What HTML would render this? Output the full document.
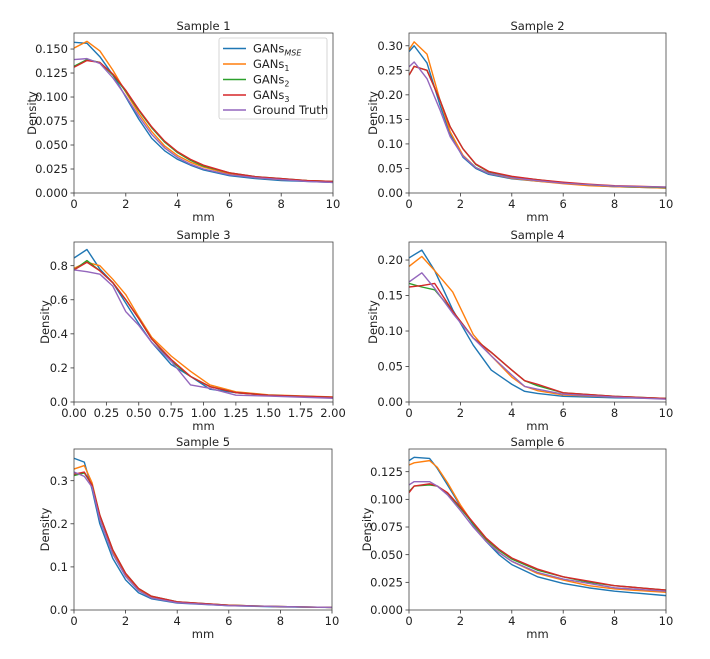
<!DOCTYPE html>
<html><head><meta charset="utf-8">
<style>
body{margin:0;background:#fff;}
svg{display:block;font-family:"DejaVu Sans","Liberation Sans",sans-serif;}
</style></head>
<body>
<svg id="fig" width="710" height="659" viewBox="0 0 710 659"></svg>
<script>
const seriesNames = ["GANsMSE","GANs1","GANs2","GANs3","Ground Truth"];
const colors = ["#1f77b4","#ff7f0e","#2ca02c","#d62728","#9467bd"];

const s1x = [0,0.5,1,1.5,2,2.5,3,3.5,4,4.5,5,6,7,8,9,10];
const s1mse = [0.157,0.156,0.142,0.123,0.100,0.077,0.057,0.044,0.035,0.029,0.024,0.018,0.015,0.013,0.012,0.011];
const s1g1 = [0.151,0.158,0.148,0.128,0.105,0.083,0.064,0.049,0.039,0.032,0.027,0.020,0.016,0.014,0.013,0.012];
const s1g2 = [0.132,0.139,0.136,0.123,0.106,0.086,0.068,0.053,0.042,0.034,0.028,0.021,0.017,0.015,0.013,0.012];
const s1g3 = [0.131,0.138,0.136,0.124,0.107,0.087,0.069,0.054,0.043,0.035,0.029,0.021,0.017,0.015,0.013,0.012];
const s1gt = [0.139,0.140,0.135,0.120,0.101,0.080,0.061,0.047,0.037,0.030,0.025,0.019,0.016,0.014,0.012,0.011];

const s2x = [0,0.2,0.7,1.2,1.6,2.1,2.6,3.1,4,5,6,7,8,10];
const s2mse = [0.288,0.300,0.265,0.18,0.12,0.073,0.05,0.038,0.029,0.024,0.02,0.016,0.013,0.010];
const s2g1 = [0.292,0.308,0.283,0.19,0.125,0.077,0.052,0.04,0.03,0.024,0.019,0.015,0.013,0.010];
const s2g2 = [0.24,0.258,0.25,0.19,0.135,0.09,0.058,0.043,0.033,0.027,0.021,0.017,0.014,0.011];
const s2g3 = [0.24,0.258,0.25,0.19,0.135,0.09,0.059,0.044,0.034,0.027,0.022,0.018,0.015,0.012];
const s2gt = [0.257,0.267,0.233,0.17,0.115,0.075,0.052,0.04,0.031,0.025,0.020,0.017,0.014,0.012];

const s3x = [0,0.1,0.2,0.3,0.4,0.5,0.6,0.75,0.9,1.05,1.25,1.5,2];
const s3mse = [0.845,0.895,0.78,0.70,0.58,0.46,0.35,0.22,0.15,0.075,0.055,0.04,0.025];
const s3g1 = [0.785,0.82,0.80,0.72,0.63,0.50,0.38,0.27,0.18,0.10,0.06,0.042,0.03];
const s3g2 = [0.775,0.83,0.77,0.70,0.60,0.49,0.37,0.24,0.15,0.09,0.055,0.04,0.028];
const s3g3 = [0.775,0.82,0.77,0.70,0.60,0.49,0.37,0.25,0.15,0.09,0.055,0.04,0.028];
const s3gt = [0.775,0.765,0.75,0.68,0.53,0.45,0.35,0.24,0.10,0.08,0.04,0.035,0.022];

const s4x = [0,0.5,1,1.7,2.5,3.2,4,4.5,5,6,8,10];
const s4mse = [0.203,0.214,0.185,0.13,0.08,0.045,0.025,0.015,0.012,0.008,0.006,0.005];
const s4g1 = [0.191,0.205,0.185,0.155,0.095,0.065,0.035,0.022,0.016,0.010,0.007,0.005];
const s4g2 = [0.167,0.162,0.158,0.128,0.09,0.07,0.045,0.03,0.023,0.013,0.008,0.005];
const s4g3 = [0.162,0.164,0.167,0.128,0.09,0.07,0.045,0.03,0.025,0.013,0.008,0.005];
const s4gt = [0.169,0.182,0.16,0.125,0.09,0.065,0.038,0.022,0.018,0.011,0.007,0.004];

const s5x = [0,0.4,0.7,1,1.5,2,2.5,3,4,6,8,10];
const s5mse = [0.352,0.343,0.28,0.20,0.12,0.07,0.04,0.026,0.016,0.010,0.007,0.006];
const s5g1 = [0.327,0.335,0.295,0.22,0.135,0.08,0.047,0.03,0.018,0.011,0.008,0.006];
const s5g2 = [0.312,0.318,0.29,0.22,0.14,0.085,0.05,0.032,0.019,0.011,0.008,0.006];
const s5g3 = [0.315,0.32,0.29,0.22,0.14,0.085,0.05,0.032,0.019,0.011,0.008,0.006];
const s5gt = [0.32,0.31,0.285,0.21,0.13,0.078,0.045,0.028,0.017,0.01,0.008,0.006];

const s6x = [0,0.2,0.8,1.1,1.5,2,2.5,3,3.5,4,5,6,7,8,10];
const s6mse = [0.135,0.138,0.137,0.128,0.113,0.094,0.077,0.062,0.050,0.041,0.030,0.024,0.020,0.017,0.013];
const s6g1 = [0.131,0.133,0.135,0.129,0.115,0.095,0.078,0.063,0.052,0.044,0.033,0.027,0.022,0.019,0.016];
const s6g2 = [0.107,0.112,0.113,0.112,0.105,0.092,0.078,0.064,0.054,0.046,0.036,0.030,0.025,0.022,0.018];
const s6g3 = [0.106,0.112,0.114,0.112,0.106,0.093,0.079,0.065,0.055,0.047,0.037,0.030,0.026,0.022,0.018];
const s6gt = [0.113,0.116,0.116,0.112,0.104,0.090,0.075,0.062,0.052,0.044,0.034,0.028,0.024,0.020,0.017];

const ticks10 = ["0","2","4","6","8","10"];
const ticks2 = ["0.00","0.25","0.50","0.75","1.00","1.25","1.50","1.75","2.00"];
const s1yt = ["0.000","0.025","0.050","0.075","0.100","0.125","0.150"];
const s2yt = ["0.00","0.05","0.10","0.15","0.20","0.25","0.30"];
const s3yt = ["0.0","0.2","0.4","0.6","0.8"];
const s4yt = ["0.00","0.05","0.10","0.15","0.20"];
const s5yt = ["0.0","0.1","0.2","0.3"];
const s6yt = ["0.000","0.025","0.050","0.075","0.100","0.125"];

const NS = "http://www.w3.org/2000/svg";
const svg = document.getElementById("fig");
function mk(tag, attrs, parent){
  const e = document.createElementNS(NS, tag);
  for (const k in attrs) e.setAttribute(k, attrs[k]);
  (parent||svg).appendChild(e);
  return e;
}
const FS = "11.5";
const panels = [
  {t:"Sample 1",L:74,R:333,T:33,B:193,xmax:10,ymax:0.1667,xt:ticks10,yt:s1yt,x:s1x,ys:[s1mse,s1g1,s1g2,s1g3,s1gt],yl:32,legend:true},
  {t:"Sample 2",L:409,R:666,T:33,B:193,xmax:10,ymax:0.326,xt:ticks10,yt:s2yt,x:s2x,ys:[s2mse,s2g1,s2g2,s2g3,s2gt],yl:373},
  {t:"Sample 3",L:74,R:333,T:242,B:402,xmax:2,ymax:0.939,xt:ticks2,yt:s3yt,x:s3x,ys:[s3mse,s3g1,s3g2,s3g3,s3gt],yl:45},
  {t:"Sample 4",L:409,R:666,T:242,B:402,xmax:10,ymax:0.2254,xt:ticks10,yt:s4yt,x:s4x,ys:[s4mse,s4g1,s4g2,s4g3,s4gt],yl:373},
  {t:"Sample 5",L:74,R:332,T:449,B:610,xmax:10,ymax:0.3735,xt:ticks10,yt:s5yt,x:s5x,ys:[s5mse,s5g1,s5g2,s5g3,s5gt],yl:45},
  {t:"Sample 6",L:409,R:666,T:449,B:610,xmax:10,ymax:0.1455,xt:ticks10,yt:s6yt,x:s6x,ys:[s6mse,s6g1,s6g2,s6g3,s6gt],yl:367}
];
panels.forEach((p, pi) => {
  const g = mk("g", {});
  
  
  const sx = v => p.L + v / p.xmax * (p.R - p.L);
  const sy = v => p.B - v / p.ymax * (p.B - p.T);
  const title = mk("text", {x:(p.L+p.R)/2, y:p.T-3, "text-anchor":"middle", "font-size":FS, fill:"#222"}, g);
  title.textContent = p.t;
  
  
  p.xt.forEach(lbl => {
    const v = parseFloat(lbl), X = sx(v);
    mk("line", {x1:X, x2:X, y1:p.B, y2:p.B+3.5, stroke:"#333", "stroke-width":"0.8"}, g);
    const t = mk("text", {x:X, y:p.B+15, "text-anchor":"middle", "font-size":FS, fill:"#222"}, g);
    t.textContent = lbl;
    
    
  });
  p.yt.forEach(lbl => {
    const v = parseFloat(lbl), Y = sy(v);
    mk("line", {x1:p.L-3.5, x2:p.L, y1:Y, y2:Y, stroke:"#333", "stroke-width":"0.8"}, g);
    const t = mk("text", {x:p.L-6, y:Y+4.2, "text-anchor":"end", "font-size":FS, fill:"#222"}, g);
    t.textContent = lbl;
    
    
  });
  const xl = mk("text", {x:(p.L+p.R)/2, y:p.B+28, "text-anchor":"middle", "font-size":FS, fill:"#222"}, g);
  xl.textContent = "mm";
  
  
  const yc = (p.T+p.B)/2;
  const yl = mk("text", {x:p.yl, y:yc, "text-anchor":"middle", "font-size":FS, fill:"#222", transform:`rotate(-90 ${p.yl} ${yc})`, dy:"4"}, g);
  yl.textContent = "Density";
  
  
  const cid = "clip" + pi;
  const cp = mk("clipPath", {id:cid}, g);
  mk("rect", {x:p.L, y:p.T, width:p.R-p.L, height:p.B-p.T}, cp);
  p.ys.forEach((arr, si) => {
    const d = arr.map((v, i) => (i ? "L" : "M") + sx(p.x[i]).toFixed(2) + "," + sy(v).toFixed(2)).join(" ");
    const path = mk("path", {d:d, fill:"none", stroke:colors[si], "stroke-width":"1.4", "clip-path":`url(#${cid})`, "stroke-linejoin":"round"}, g);
    
    
  });
  const frame = mk("rect", {x:p.L, y:p.T, width:p.R-p.L, height:p.B-p.T, fill:"none", stroke:"#444", "stroke-width":"0.8"}, g);
  
  
  if (p.legend) {
    const lg = mk("g", {}, g);
    
    
    mk("rect", {x:219, y:38, width:108, height:81, rx:2, fill:"#fff", stroke:"#ccc", "stroke-width":"0.8"}, lg);
    const rows = [48.5, 64, 79.5, 95, 110];
    const labels = [["GANs","MSE",true],["GANs","1"],["GANs","2"],["GANs","3"],["Ground Truth",""]];
    rows.forEach((ry, i) => {
      const e = mk("g", {}, lg);
      
      
      mk("line", {x1:223, x2:246, y1:ry, y2:ry, stroke:colors[i], "stroke-width":"1.5"}, e);
      const t = mk("text", {x:253, y:ry+4.2, "font-size":FS, fill:"#222"}, e);
      t.appendChild(document.createTextNode(labels[i][0]));
      if (labels[i][1]) {
        const ts = mk("tspan", {dy:"3", "font-size":"8"}, t);
        if (labels[i][2]) ts.setAttribute("font-style","italic");
        ts.textContent = labels[i][1];
      }
    });
  }
});
</script>
</body></html>
